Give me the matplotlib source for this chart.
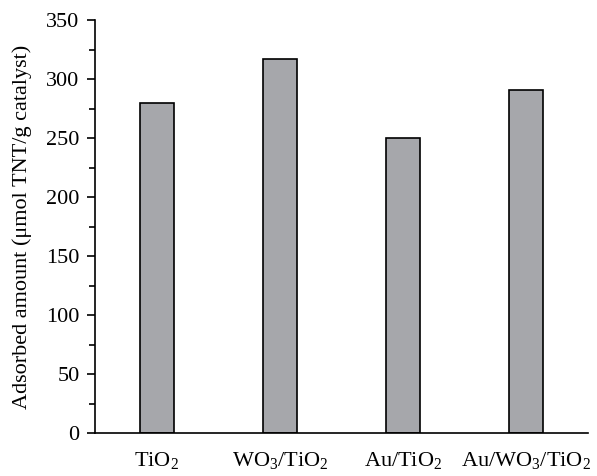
import matplotlib.pyplot as plt
from matplotlib.ticker import MultipleLocator

catalysts = ['TiO$_2$', 'WO$_3$/TiO$_2$', 'Au/TiO$_2$', 'Au/WO$_3$/TiO$_2$']
adsorbed = [280, 317, 250, 291]

plt.rcParams['font.family'] = ['Liberation Serif', 'DejaVu Serif']
plt.rcParams['mathtext.fontset'] = 'custom'
plt.rcParams['mathtext.rm'] = 'Liberation Serif'
plt.rcParams['mathtext.it'] = 'Liberation Serif:italic'

fig = plt.figure(figsize=(5.97, 4.76), dpi=100)
ax = fig.add_axes([0.159, 0.090, 0.826, 0.868])

x = range(len(catalysts))
ax.bar(x, adsorbed, width=0.275, color='#a6a7ab', edgecolor='black', linewidth=1.2)

ax.set_xlim(-0.5, 3.5)
ax.set_ylim(0, 350)
ax.yaxis.set_major_locator(MultipleLocator(50))
ax.yaxis.set_minor_locator(MultipleLocator(25))
ax.set_xticks(list(x))
ax.set_xticklabels(catalysts, fontsize=16)
ax.tick_params(axis='x', length=0, pad=12)
ax.tick_params(axis='y', which='major', direction='out', length=6, width=1.2, labelsize=16, pad=5)
ax.tick_params(axis='y', which='minor', direction='out', length=4, width=1.2)

ax.spines['top'].set_visible(False)
ax.spines['right'].set_visible(False)
ax.spines['left'].set_linewidth(1.2)
ax.spines['bottom'].set_linewidth(1.2)

ax.set_ylabel('Adsorbed amount (\u03bcmol TNT/g catalyst)', fontsize=16, labelpad=10)

plt.savefig('out.png')
plt.close()
